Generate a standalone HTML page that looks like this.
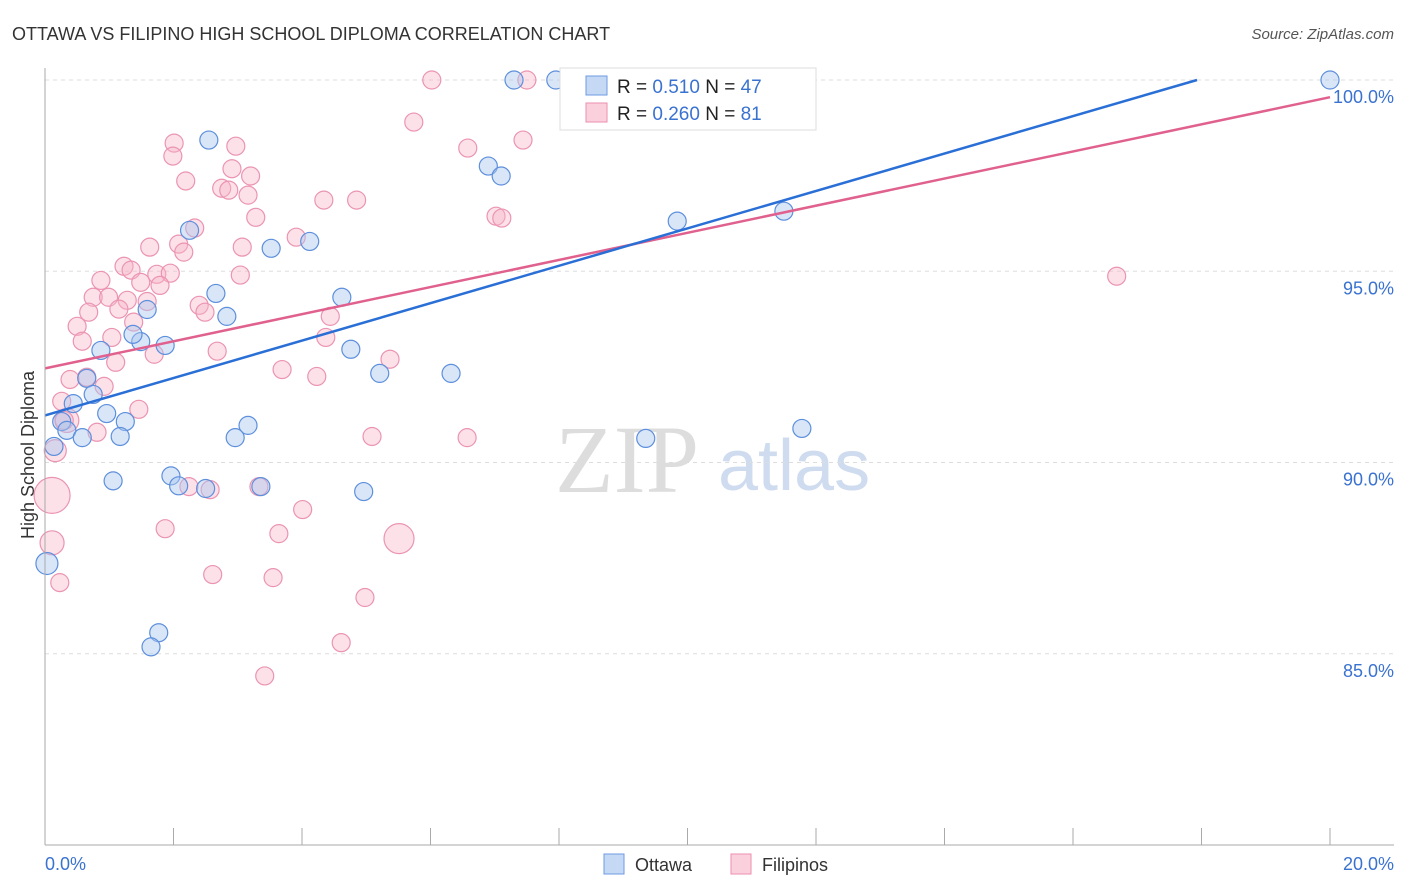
<!DOCTYPE html>
<html><head><meta charset="utf-8"><style>
body{margin:0;background:#fff;font-family:"Liberation Sans",sans-serif}
svg{display:block}
</style></head><body>
<svg id="chart" width="1406" height="892">
<text x="12" y="40" font-size="18" fill="#333">OTTAWA VS FILIPINO HIGH SCHOOL DIPLOMA CORRELATION CHART</text>
<text x="1394" y="39" font-size="15" fill="#555" font-style="italic" text-anchor="end">Source: ZipAtlas.com</text>
<text x="0" y="0" transform="translate(34,455) rotate(-90)" font-size="18" fill="#333" text-anchor="middle">High School Diploma</text>
<text x="555" y="492" font-size="96" fill="#ddd" font-family="Liberation Serif,serif">ZIP</text>
<text x="718" y="490" font-size="72" fill="#cfdcf0">atlas</text>
<g id="grid"></g><g id="pts"></g><g id="lines"></g>
<line x1="45" y1="68" x2="45" y2="845" stroke="#aaa"/>
<line x1="45" y1="845" x2="1394" y2="845" stroke="#aaa"/>
<text x="45" y="870" font-size="18" fill="#3a72d0">0.0%</text>
<text x="1394" y="870" font-size="18" fill="#3a72d0" text-anchor="end">20.0%</text>
<g>
<rect x="560" y="68" width="256" height="62" fill="#fff" stroke="#ddd"/>
<rect x="586" y="76" width="21" height="19" fill="#c5d9f5" stroke="#6d9ae0"/>
<rect x="586" y="103" width="21" height="19" fill="#fbd0dd" stroke="#eb8fae"/>
<text x="617" y="93" font-size="19" fill="#222">R = <tspan fill="#3a72d0">0.510</tspan>   N = <tspan fill="#3a72d0">47</tspan></text>
<text x="617" y="120" font-size="19" fill="#222">R = <tspan fill="#3a72d0">0.260</tspan>   N = <tspan fill="#3a72d0">81</tspan></text>
</g>
<g>
<rect x="604" y="854" width="20" height="20" fill="#c5d9f5" stroke="#6d9ae0"/>
<text x="635" y="871" font-size="18" fill="#333">Ottawa</text>
<rect x="731" y="854" width="20" height="20" fill="#fbd0dd" stroke="#eb8fae"/>
<text x="762" y="871" font-size="18" fill="#333">Filipinos</text>
</g>
</svg>
<script>
const yTicks=[100,95,90,85];
const xTickVals=[0,2,4,6,8,10,12,14,16,18,20];
const ottawaX=[7.3,7.95,8.75,11.1,20,2.55,6.9,7.1,9.84,11.5,2.25,3.52,4.12,2.66,4.62,1.59,2.83,1.49,1.87,1.37,0.87,4.76,5.21,6.32,0.65,0.75,0.44,0.96,1.25,0.26,3.16,2.96,1.17,0.34,0.58,0.14,1.06,1.96,2.08,2.5,3.36,4.96,9.35,11.78,0.03,1.77,1.65];
const ottawaY=[100,100,100,100,100,98.43,97.75,97.49,96.31,96.57,96.07,95.6,95.78,94.42,94.32,94.0,93.82,93.16,93.06,93.35,92.93,92.96,92.33,92.33,92.2,91.78,91.54,91.28,91.07,91.07,90.97,90.65,90.68,90.84,90.65,90.42,89.52,89.65,89.39,89.32,89.37,89.24,90.63,90.89,87.36,85.55,85.18];
const filX=[6.02,7.5,11.75,2.01,2.97,1.99,5.74,6.58,7.44,2.19,2.91,2.75,2.86,3.2,3.16,3.28,4.34,4.85,7.02,7.11,2.33,2.08,1.63,2.16,3.07,3.91,1.23,1.34,1.74,1.95,0.87,1.49,1.79,0.75,0.99,1.28,1.59,2.4,2.49,0.68,1.15,0.5,1.38,0.58,1.04,1.7,1.1,2.68,4.44,4.37,5.37,3.69,4.23,0.92,0.39,0.65,1.46,0.26,0.34,0.81,0.16,5.09,6.57,2.24,2.57,3.33,1.87,4.01,3.64,5.51,0.11,0.11,0.23,2.61,3.55,4.98,4.61,3.42,16.68,3.04,0.3];
const filY=[100,100,100,98.35,98.27,98.01,98.9,98.22,98.43,97.36,97.68,97.17,97.12,97.49,96.99,96.41,96.86,96.86,96.44,96.39,96.13,95.71,95.63,95.5,95.63,95.89,95.13,95.03,94.92,94.95,94.76,94.71,94.63,94.32,94.32,94.24,94.21,94.11,93.93,93.93,94.01,93.56,93.67,93.17,93.27,92.83,92.62,92.91,93.82,93.27,92.7,92.43,92.25,91.99,92.17,92.23,91.39,91.6,91.1,90.79,90.31,90.68,90.65,89.37,89.29,89.37,88.27,88.77,88.14,88.01,89.14,87.9,86.86,87.07,86.99,86.47,85.29,84.42,94.87,94.9,91.1];
const bigFil={69:15,70:18,71:12,58:12,60:11};
const trendBlue=[91.23,100,17.93];
const trendPink=[92.46,99.55,20];
function X(v){return 45+v/20*1285;}
function Y(v){return 80+(100-v)*38.25;}
const NS='http://www.w3.org/2000/svg';
function mk(tag,attrs,parent){const e=document.createElementNS(NS,tag);for(const k in attrs)e.setAttribute(k,attrs[k]);parent.appendChild(e);return e;}
const grid=document.getElementById('grid'),pts=document.getElementById('pts'),lines=document.getElementById('lines'),svg=document.getElementById('chart');
yTicks.forEach(t=>{
 const l=mk('line',{x1:45,x2:1394,y1:Y(t),y2:Y(t),stroke:'#ddd','stroke-dasharray':'4,4'},grid);
 
 
 const tx=mk('text',{x:1394,y:Y(t)+23,'font-size':18,fill:'#3a72d0','text-anchor':'end'},svg);
 tx.textContent=t.toFixed(1)+'%';
 
 
});
xTickVals.forEach(t=>{
 const l=mk('line',{x1:X(t),x2:X(t),y1:828,y2:845,stroke:'#aaa'},grid);
 
 
});
filX.forEach((v,i)=>{
 const c=mk('circle',{cx:X(v),cy:Y(filY[i]),r:bigFil[i]||9,fill:'rgba(248,180,200,0.4)',stroke:'#eb94b2','stroke-width':1.2},pts);
 
 
});
ottawaX.forEach((v,i)=>{
 const c=mk('circle',{cx:X(v),cy:Y(ottawaY[i]),r:i==44?11:9,fill:'rgba(170,200,240,0.45)',stroke:'#5d8fdc','stroke-width':1.2},pts);
 
 
});
const pl=mk('line',{x1:X(0),y1:Y(trendPink[0]),x2:X(trendPink[2]),y2:Y(trendPink[1]),stroke:'#e0608e','stroke-width':2.5},lines);


const bl=mk('line',{x1:X(0),y1:Y(trendBlue[0]),x2:X(trendBlue[2]),y2:Y(trendBlue[1]),stroke:'#2a6fd6','stroke-width':2.5},lines);


</script>
</body></html>
